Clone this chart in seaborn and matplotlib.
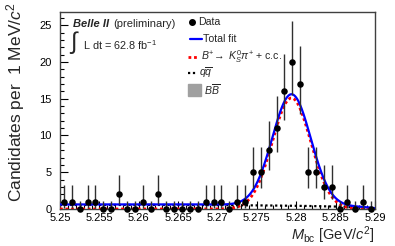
import numpy as np
import matplotlib
matplotlib.use("Agg")
import matplotlib.pyplot as plt
from matplotlib.ticker import MultipleLocator, FixedLocator
from matplotlib.patches import Rectangle
from matplotlib.lines import Line2D
import seaborn as sns
import pandas as pd

# ---- data ----
bin_lo = 5.25
bin_width = 0.001
counts = [1, 1, 0, 1, 1, 0, 0, 2, 0, 0, 1, 0, 2, 0, 0, 0, 0, 0, 1, 1,
          1, 0, 1, 1, 5, 5, 8, 11, 16, 20, 17, 5, 5, 3, 3, 0, 1, 0, 1, 0]
# Poisson 68% interval (lower, upper) for the observed counts
pois_lo = {0: 0.0, 1: 0.173, 2: 0.708, 3: 1.367, 5: 2.840, 8: 5.24, 11: 7.74,
           16: 12.05, 17: 12.92, 20: 15.57}
pois_hi = {0: 1.15, 1: 3.30, 2: 4.64, 3: 5.92, 5: 8.38, 8: 11.94, 11: 15.41,
           16: 21.08, 17: 22.20, 20: 25.54}

# fit results
sig_mean = 5.2794      # GeV
sig_sigma = 0.00244    # GeV
sig_peak = 15.1        # candidates / MeV
qq_level = 0.55        # candidates / MeV at 5.25
argus_c = -40.0
argus_m0 = 5.29
bb_level = 0.07

x_ticks = [5.25, 5.255, 5.26, 5.265, 5.27, 5.275, 5.28, 5.285, 5.29]
x_ticklabels = ["5.25", "5.255", "5.26", "5.265", "5.27", "5.275", "5.28", "5.285", "5.29"]
y_ticks = [0, 5, 10, 15, 20, 25]
legend_labels = ["Data", "Total fit", r"$B^{+}\!\rightarrow\; K^{0}_{S}\pi^{+}$ + c.c.",
                 r"$q\overline{q}$", r"$B\overline{B}$"]

# ---- style ----
sns.set_style("ticks")
plt.rcParams["font.family"] = ["Liberation Sans", "DejaVu Sans"]
plt.rcParams["mathtext.fontset"] = "custom"
plt.rcParams["mathtext.rm"] = "Liberation Sans"
plt.rcParams["mathtext.it"] = "Liberation Sans:italic"
plt.rcParams["mathtext.bf"] = "Liberation Sans:bold"

W, H = 395, 246
fig = plt.figure(figsize=(W / 100, H / 100), dpi=100)
ax = fig.add_axes([60 / W, 1 - 209 / H, 315 / W, 197 / H])

def fx(px):
    return px / W

def fy(py):
    return 1 - py / H

centers = bin_lo + bin_width * (np.arange(len(counts)) + 0.5)
df = pd.DataFrame({"m": centers, "n": counts})
lo_err = [n - pois_lo[n] for n in counts]
hi_err = [pois_hi[n] - n for n in counts]

# model curves
xm = np.linspace(5.25, 5.29, 800)
sig = sig_peak * np.exp(-0.5 * ((xm - sig_mean) / sig_sigma) ** 2)
def argus(m):
    z = np.clip(1 - (m / argus_m0) ** 2, 0, None)
    return m * np.sqrt(z) * np.exp(argus_c * z)
qq = qq_level * argus(xm) / argus(np.array([5.25]))[0]
bb = np.full_like(xm, bb_level)
total = sig + qq + bb
cdf = pd.DataFrame({"m": xm, "sig": sig, "qq": qq, "tot": total})

ax.fill_between(xm, 0, bb, color="#a0a0a0", lw=0, zorder=1)
sns.lineplot(data=cdf, x="m", y="qq", ax=ax, color="black", lw=1.6,
             linestyle=(0, (1, 1.2)), zorder=2)
sns.lineplot(data=cdf, x="m", y="sig", ax=ax, color="#ff0000", lw=2.0,
             linestyle=(0, (1, 1)), zorder=3)
sns.lineplot(data=cdf, x="m", y="tot", ax=ax, color="#0000ff", lw=1.6, zorder=4)

ax.errorbar(centers, counts, yerr=[lo_err, hi_err], fmt="none", ecolor="#303030",
            elinewidth=1.0, capsize=0, zorder=5)
sns.scatterplot(data=df, x="m", y="n", ax=ax, color="black", s=22,
                edgecolor="black", linewidth=0, zorder=6, clip_on=False)

ax.set_xlim(5.25, 5.29)
ax.set_ylim(0, 26.8)
ax.xaxis.set_major_locator(FixedLocator(x_ticks))
ax.set_xticklabels(x_ticklabels)
ax.xaxis.set_minor_locator(MultipleLocator(0.001))
ax.yaxis.set_major_locator(FixedLocator(y_ticks))
ax.yaxis.set_minor_locator(MultipleLocator(1))
ax.tick_params(axis="both", which="both", direction="in", top=False, right=False,
               labelsize=8, colors="black")
ax.tick_params(axis="both", which="major", length=6, width=0.8)
ax.tick_params(axis="both", which="minor", length=3, width=0.8)
ax.tick_params(axis="x", pad=3)
ax.tick_params(axis="y", pad=6)
for s in ax.spines.values():
    s.set_color("#404040")
    s.set_linewidth(1.0)
    s.set_visible(True)
ax.set_xlabel("")
ax.set_ylabel("")

fig.text(fx(375), fy(235), r"$M_{\rm bc}$ [GeV/$c^2$]", ha="right", va="center",
         fontsize=10.5)
fig.text(fx(16), fy(2), r"Candidates per  1 MeV/$c^2$", rotation=90,
         ha="center", va="top", fontsize=12.5)

# annotations
fig.text(fx(73), fy(24), "Belle II", fontsize=8.0, fontweight="bold",
         fontstyle="italic", ha="left", va="center")
fig.text(fx(113), fy(24), "(preliminary)", fontsize=8.0, ha="left", va="center")
fig.text(fx(69), fy(43), r"$\int$", fontsize=17, ha="left", va="center")
fig.text(fx(83), fy(45), r"L dt = 62.8 fb$^{-1}$", fontsize=7.8, ha="left",
         va="center")

# legend (drawn manually at the reference positions)
rows_y = [22, 39, 57, 73, 90]
text_x = [198, 203, 201, 199, 204]
fig.add_artist(Line2D([fx(192)], [fy(rows_y[0])], marker="o", color="black", ms=4,
                      ls="none", transform=fig.transFigure))
fig.add_artist(Line2D([fx(190), fx(202)], [fy(rows_y[1])] * 2, color="#0000ff", lw=1.6,
                      transform=fig.transFigure))
fig.add_artist(Line2D([fx(188), fx(199)], [fy(rows_y[2])] * 2, color="#ff0000", lw=2.0,
                      ls=(0, (1, 1)), transform=fig.transFigure))
fig.add_artist(Line2D([fx(188), fx(197)], [fy(rows_y[3])] * 2, color="black", lw=1.6,
                      ls=(0, (1, 1.2)), transform=fig.transFigure))
fig.add_artist(Rectangle((fx(188), fy(96)), fx(13), 12 / H, color="#a0a0a0",
                         transform=fig.transFigure))
for lab, yy, xx in zip(legend_labels, rows_y, text_x):
    fig.text(fx(xx), fy(yy), lab, fontsize=7.6, ha="left", va="center")

fig.savefig("out.png", dpi=100)
